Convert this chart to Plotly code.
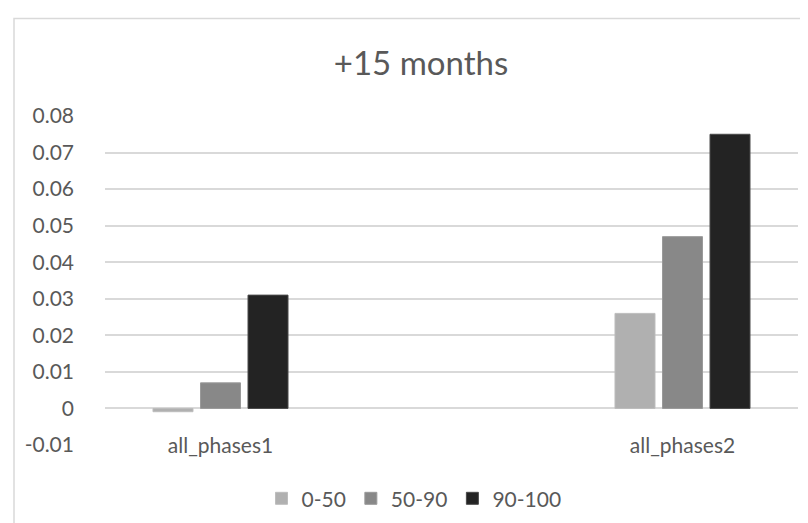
import plotly.graph_objects as go

# ---- data ----
categories = ["all_phases1", " ", "all_phases2"]
series_names = ["0-50", "50-90", "90-100"]
values_0_50 = [-0.0009, None, 0.026]
values_50_90 = [0.007, None, 0.047]
values_90_100 = [0.031, None, 0.075]
y_tick_values = [-0.01, 0, 0.01, 0.02, 0.03, 0.04, 0.05, 0.06, 0.07, 0.08]
y_tick_labels = ["-0.01", "0", "0.01", "0.02", "0.03", "0.04", "0.05", "0.06", "0.07", "0.08"]
title_text = "+15 months"

colors = ["#B0B0B0", "#888888", "#232323"]
edge_colors = ["#BDBDBD", "#9A9A9A", "#4A4A4A"]
FONT = "Lato, 'Open Sans', sans-serif"
TXT = "#595959"

fig = go.Figure()
for name, vals, c, ec in zip(series_names, [values_0_50, values_50_90, values_90_100], colors, edge_colors):
    fig.add_trace(go.Bar(
        x=categories, y=vals, name=name,
        marker=dict(color=c, line=dict(color=ec, width=1)),
    ))

W, H = 808, 523
ml, mr, mt, mb = 97, 18, 108, 84
pw, ph = W - ml - mr, H - mt - mb

def px_x(x):
    return (x - ml) / pw

def px_y(y):
    return (H - mb - y) / ph

fig.update_layout(
    width=W, height=H,
    margin=dict(l=ml, r=mr, t=mt, b=mb, pad=0),
    paper_bgcolor="white", plot_bgcolor="white",
    barmode="group", bargap=0.383, bargroupgap=0.158,
    font=dict(family=FONT, color=TXT, size=21),
    title=dict(text=title_text, x=(413) / W, xanchor="center",
               y=1 - 55 / H, yanchor="middle", xref="container", yref="container",
               font=dict(family=FONT, size=33, color=TXT)),
    xaxis=dict(type="category", categoryorder="array", categoryarray=categories,
               range=[-0.5, 2.5], anchor="free", position=(0 - (-0.01)) / 0.09,
               showgrid=False, showline=False, ticks="", zeroline=False,
               tickfont=dict(family=FONT, size=21, color=TXT),
               ticklabelstandoff=23),
    yaxis=dict(range=[-0.01, 0.08], tickvals=y_tick_values, ticktext=y_tick_labels,
               showgrid=True, gridcolor="#D9D9D9", gridwidth=1.5,
               zeroline=False, showline=False, ticks="",
               tickfont=dict(family=FONT, size=21, color=TXT),
               ticklabelstandoff=30),
    legend=dict(orientation="h", x=px_x(406), xanchor="center",
                y=px_y(493), yanchor="middle",
                font=dict(family=FONT, size=21, color=TXT),
                itemwidth=30, tracegroupgap=0, bgcolor="rgba(0,0,0,0)"),
    showlegend=True,
    shapes=[dict(type="rect", xref="paper", yref="paper",
                 x0=px_x(6), x1=1.5, y0=-0.6, y1=px_y(10),
                 line=dict(color="#D9D9D9", width=1.5), layer="below")],
)

fig.write_html("out.html")
